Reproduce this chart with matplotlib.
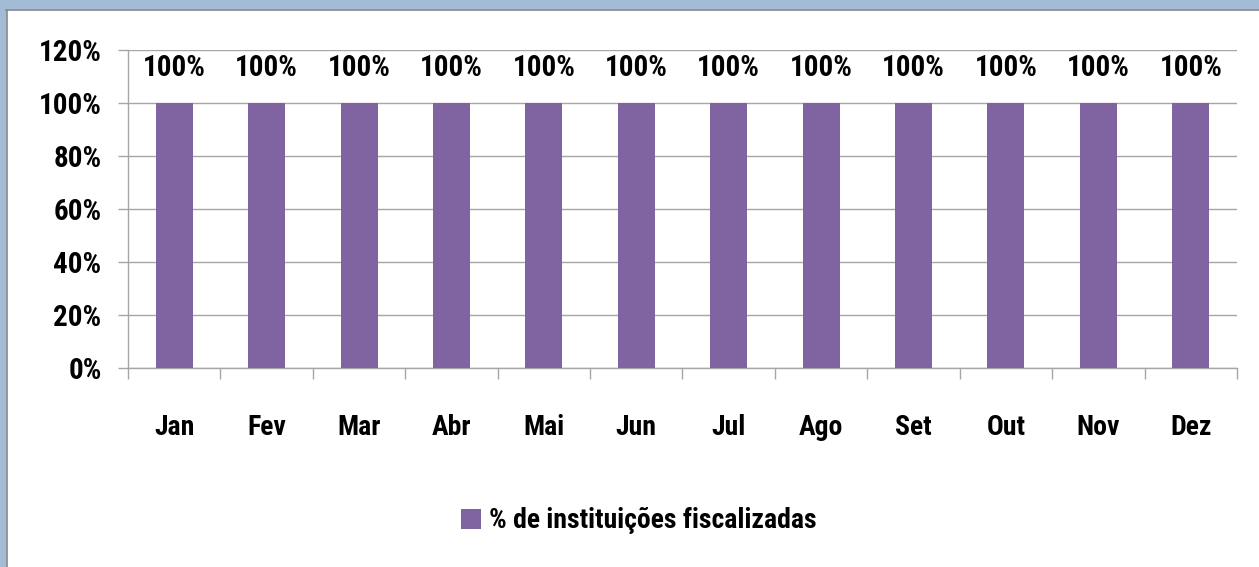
import matplotlib
matplotlib.use("Agg")
import matplotlib.pyplot as plt
from matplotlib import font_manager as fm
from matplotlib.patches import Rectangle

months = ["Jan", "Fev", "Mar", "Abr", "Mai", "Jun", "Jul", "Ago", "Set", "Out", "Nov", "Dez"]
values = [100, 100, 100, 100, 100, 100, 100, 100, 100, 100, 100, 100]
series_name = "% de instituições fiscalizadas"
yticks = [0, 20, 40, 60, 80, 100, 120]

names = {f.name for f in fm.fontManager.ttflist}
family = "DejaVu Sans"
for cand in ["Roboto Condensed", "Open Sans Condensed", "Liberation Sans Narrow", "Carlito"]:
    if cand in names:
        family = cand
        break
plt.rcParams["font.family"] = [family, "DejaVu Sans"]
WEIGHT = 600

FS_NUM = 21
FS_TXT = 20
W, H = 1259, 567
fig = plt.figure(figsize=(W / 100, H / 100), dpi=100)
fig.patch.set_facecolor("white")

# frame border
fig.add_artist(Rectangle((0, 1 - 9 / H), 1, 9 / H, transform=fig.transFigure, color="#A4BBD6", zorder=0))
fig.add_artist(Rectangle((0, 0), 6 / W, 1, transform=fig.transFigure, color="#A4BBD6", zorder=0))
fig.add_artist(plt.Line2D([6 / W, 1], [1 - 10 / H, 1 - 10 / H], transform=fig.transFigure, color="#8A8A8A", lw=1.2))
fig.add_artist(plt.Line2D([6.5 / W, 6.5 / W], [0, 1 - 10 / H], transform=fig.transFigure, color="#8A8A8A", lw=1.2))

ax = fig.add_axes([128 / W, 1 - 368 / H, (1237 - 128) / W, (368 - 50) / H])
x = list(range(len(months)))
bars = ax.bar(x, values, width=0.4, color="#8064A2", zorder=3, label=series_name)
ax.set_xlim(-0.5, len(months) - 0.5)
ax.set_ylim(0, 120)
ax.set_yticks(yticks)
ax.set_yticklabels([f"{v}%" for v in yticks], fontsize=FS_NUM, fontweight=WEIGHT)
ax.yaxis.grid(True, color="#A6A6A6", lw=1.0, zorder=0)
ax.set_xticks(x)
ax.set_xticklabels(months, fontsize=FS_TXT, fontweight=WEIGHT)
ax.tick_params(axis="x", length=0, pad=33)
ax.set_xticks([i - 0.5 for i in range(len(months) + 1)], minor=True)
ax.tick_params(axis="x", which="minor", length=8, color="#A6A6A6", width=1.0, direction="out")
ax.tick_params(axis="y", length=7, color="#A6A6A6", width=1.0, pad=12)
for s in ["top", "right"]:
    ax.spines[s].set_visible(False)
for s in ["left", "bottom"]:
    ax.spines[s].set_color("#A6A6A6")
    ax.spines[s].set_linewidth(1.0)

for xi, v in zip(x, values):
    ax.annotate(f"{v}%", (xi, v), xytext=(0, 25), textcoords="offset points",
                ha="center", va="center", fontsize=FS_NUM, fontweight=WEIGHT, annotation_clip=False)

leg = fig.legend(handles=[bars], labels=[series_name], loc="center", bbox_to_anchor=(639 / W, 1 - 521 / H),
                 frameon=False, prop={"size": FS_TXT, "weight": WEIGHT}, handlelength=0.7, handleheight=0.7,
                 handletextpad=0.3)

fig.savefig("out.png", dpi=100)
